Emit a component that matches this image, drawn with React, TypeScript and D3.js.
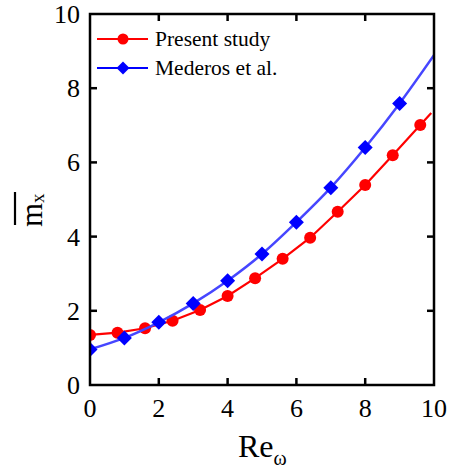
import React from "react";
import * as d3 from "d3";

// Present study: Re_ω sample positions and m̄x values
const presentRe = [0, 0.8, 1.6, 2.4, 3.2, 4.0, 4.8, 5.6, 6.4, 7.2, 8.0, 8.8, 9.6];
const presentM = [1.35, 1.41, 1.53, 1.73, 2.02, 2.4, 2.88, 3.4, 3.97, 4.67, 5.39, 6.19, 7.01];
// Line continuation past the last marker
const presentTailRe = [9.92];
const presentTailM = [7.33];

// Mederos et al.
const mederosRe = [0, 1, 2, 3, 4, 5, 6, 7, 8, 9];
const mederosM = [0.96, 1.27, 1.69, 2.2, 2.81, 3.53, 4.39, 5.32, 6.4, 7.59];
const mederosTailRe = [10];
const mederosTailM = [8.89];

const xTicks = [0, 2, 4, 6, 8, 10];
const yTicks = [0, 2, 4, 6, 8, 10];
const seriesNames = ["Present study", "Mederos et al."];

const W = 450;
const H = 470;
const left = 90;
const right = 434;
const top = 14;
const bottom = 385;

const FONT = "'Liberation Serif', 'Times New Roman', serif";

export default function App() {
  const x = d3.scaleLinear().domain([0, 10]).range([left, right]);
  const y = d3.scaleLinear().domain([0, 10]).range([bottom, top]);

  const present = presentRe.map((r, i) => [r, presentM[i]] as [number, number]);
  const presentLinePts = present.concat(presentTailRe.map((r, i) => [r, presentTailM[i]] as [number, number]));
  const mederos = mederosRe.map((r, i) => [r, mederosM[i]] as [number, number]);
  const mederosLinePts = mederos.concat(mederosTailRe.map((r, i) => [r, mederosTailM[i]] as [number, number]));

  const redLine = d3
    .line<[number, number]>()
    .x((d) => x(d[0]))
    .y((d) => y(d[1]))
    .curve(d3.curveLinear);
  const blueLine = d3
    .line<[number, number]>()
    .x((d) => x(d[0]))
    .y((d) => y(d[1]))
    .curve(d3.curveMonotoneX);

  const diamond = (cx: number, cy: number, s: number) =>
    `M${cx},${cy - s}L${cx + s},${cy}L${cx},${cy + s}L${cx - s},${cy}Z`;

  const red = "#ff0000";
  const blueLineColor = "#4646ff";
  const blue = "#0000ff";
  const tickLen = 7;

  return (
    <svg width={W} height={H} style={{ display: "block", position: "absolute", left: 0, top: 0 }}>
      <rect width={W} height={H} fill="#fff" />
      <defs>
        <clipPath id="plot-clip">
          <rect x={left} y={top} width={right - left} height={bottom - top} />
        </clipPath>
      </defs>

      {/* series */}
      <g clipPath="url(#plot-clip)">
        <path d={redLine(presentLinePts) || ""} fill="none" stroke={red} strokeWidth={2.2} />
        {present.map((d, i) => (
          <circle key={"p" + i} cx={x(d[0])} cy={y(d[1])} r={6} fill={red} />
        ))}
        <path d={blueLine(mederosLinePts) || ""} fill="none" stroke={blueLineColor} strokeWidth={2.5} />
        {mederos.map((d, i) => (
          <path key={"m" + i} d={diamond(x(d[0]), y(d[1]), 7.5)} fill={blue} />
        ))}
      </g>

      {/* frame */}
      <rect x={left} y={top} width={right - left} height={bottom - top} fill="none" stroke="#000" strokeWidth={2.5} />

      {/* ticks */}
      {xTicks.slice(1, -1).map((t) => (
        <g key={"xt" + t}>
          <line x1={x(t)} x2={x(t)} y1={bottom} y2={bottom - tickLen} stroke="#000" strokeWidth={2.5} />
          <line x1={x(t)} x2={x(t)} y1={top} y2={top + tickLen} stroke="#000" strokeWidth={2.5} />
        </g>
      ))}
      {yTicks.slice(1, -1).map((t) => (
        <g key={"yt" + t}>
          <line x1={left} x2={left + tickLen} y1={y(t)} y2={y(t)} stroke="#000" strokeWidth={2.5} />
          <line x1={right} x2={right - tickLen} y1={y(t)} y2={y(t)} stroke="#000" strokeWidth={2.5} />
        </g>
      ))}

      {/* tick labels */}
      {xTicks.map((t) => (
        <text key={"xl" + t} x={x(t)} y={bottom + 32} textAnchor="middle" fontFamily={FONT} fontSize={26} fill="#000">
          {t}
        </text>
      ))}
      {yTicks.map((t) => (
        <text key={"yl" + t} x={left - 10} y={y(t) + 9} textAnchor="end" fontFamily={FONT} fontSize={26} fill="#000">
          {t}
        </text>
      ))}

      {/* x title */}
      <text x={238} y={457} fontFamily={FONT} fontSize={32} fill="#000">
        Re
        <tspan fontSize={20} dy={8}>ω</tspan>
      </text>

      {/* y title: m̄ with subscript x */}
      <g transform="translate(42,227) rotate(-90)">
        <text x={0} y={0} fontFamily={FONT} fontSize={31} fill="#000">
          m
          <tspan fontSize={19} dy={2}>x</tspan>
        </text>
        <line x1={2} x2={35} y1={-27} y2={-27} stroke="#000" strokeWidth={2.2} />
      </g>

      {/* legend */}
      {seriesNames.map((name, i) => {
        const ly = 39 + i * 29;
        const color = i === 0 ? red : blue;
        return (
          <g key={"lg" + i}>
            <line x1={97} x2={148} y1={ly} y2={ly} stroke={color} strokeWidth={2.2} />
            {i === 0 ? (
              <circle cx={123} cy={ly} r={5.5} fill={red} />
            ) : (
              <path d={diamond(123, ly, 6.5)} fill={blue} />
            )}
            <text x={155} y={ly + 7} fontFamily={FONT} fontSize={21.5} fill="#000">
              {name}
            </text>
          </g>
        );
      })}
    </svg>
  );
}
